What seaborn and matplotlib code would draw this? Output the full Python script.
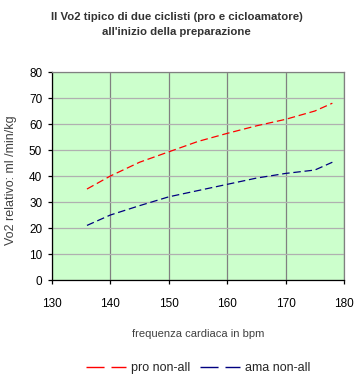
import seaborn as sns
import pandas as pd
import matplotlib.pyplot as plt

# values
hr = [136, 140, 145, 150, 155, 160, 165, 170, 175, 178]
pro = [35, 40, 45.3, 49.3, 53.3, 56.4, 59.3, 61.8, 65, 68]
ama = [21, 25, 28.6, 32, 34.4, 36.8, 39.2, 41, 42.3, 45.3]
series_names = ["pro non-all", "ama non-all"]

df = pd.DataFrame({
    "hr": hr + hr,
    "vo2": pro + ama,
    "serie": [series_names[0]] * len(hr) + [series_names[1]] * len(hr),
})

sns.set_style("white")
plt.rcParams['font.family'] = ['Liberation Sans', 'DejaVu Sans']

fig = plt.figure(figsize=(3.58, 3.81), dpi=100)
ax = fig.add_axes([0.145, 0.265, 0.816, 0.546])
ax.set_facecolor("#CCFFCC")

sns.lineplot(data=df, x="hr", y="vo2", hue="serie", style="serie",
             palette=["#FF0000", "#000080"], dashes=[(6, 3), (6, 3)],
             linewidth=0.9, ax=ax, legend=False)

ax.set_xlim(130, 180)
ax.set_ylim(0, 80)
ax.set_xticks(range(130, 181, 10))
ax.set_yticks(range(0, 81, 10))
ax.grid(axis="x", color="#808080", linewidth=0.9)
ax.grid(axis="y", color="#B0B0B0", linewidth=0.9)
ax.set_axisbelow(True)

for s in ["top", "right"]:
    ax.spines[s].set_color("#808080")
    ax.spines[s].set_linewidth(0.9)
for s in ["left", "bottom"]:
    ax.spines[s].set_color("black")
    ax.spines[s].set_linewidth(0.9)

ax.tick_params(axis="both", direction="out", length=3, width=0.9,
               color="black", labelsize=8.5, labelcolor="black", pad=4,
               bottom=True, left=True)
for lbl in ax.get_xticklabels():
    lbl.set_y(-0.04)

ax.set_xlabel("frequenza cardiaca in bpm", fontsize=8, color="#404040")
ax.xaxis.set_label_coords(0.5, -0.235)
ax.set_ylabel("Vo2 relativo: ml /min/kg", fontsize=9, color="#404040")
ax.yaxis.set_label_coords(-0.118, 0.48)

fig.text(0.493, 0.955, "Il Vo2 tipico di due ciclisti (pro e cicloamatore)",
         ha="center", va="center", fontsize=8.2, fontweight="bold", color="#333333")
fig.text(0.493, 0.915, "all'inizio della preparazione",
         ha="center", va="center", fontsize=8.2, fontweight="bold", color="#333333")

handles = [plt.Line2D([], [], color="#FF0000", linewidth=1, dashes=(13, 5)),
           plt.Line2D([], [], color="#000080", linewidth=1, dashes=(13, 5))]
fig.legend(handles, series_names, loc="center", bbox_to_anchor=(0.553, 0.034),
           ncol=2, frameon=False, fontsize=9, handlelength=3.2,
           handletextpad=0.4, columnspacing=0.8)

fig.savefig("out.png", dpi=100)
